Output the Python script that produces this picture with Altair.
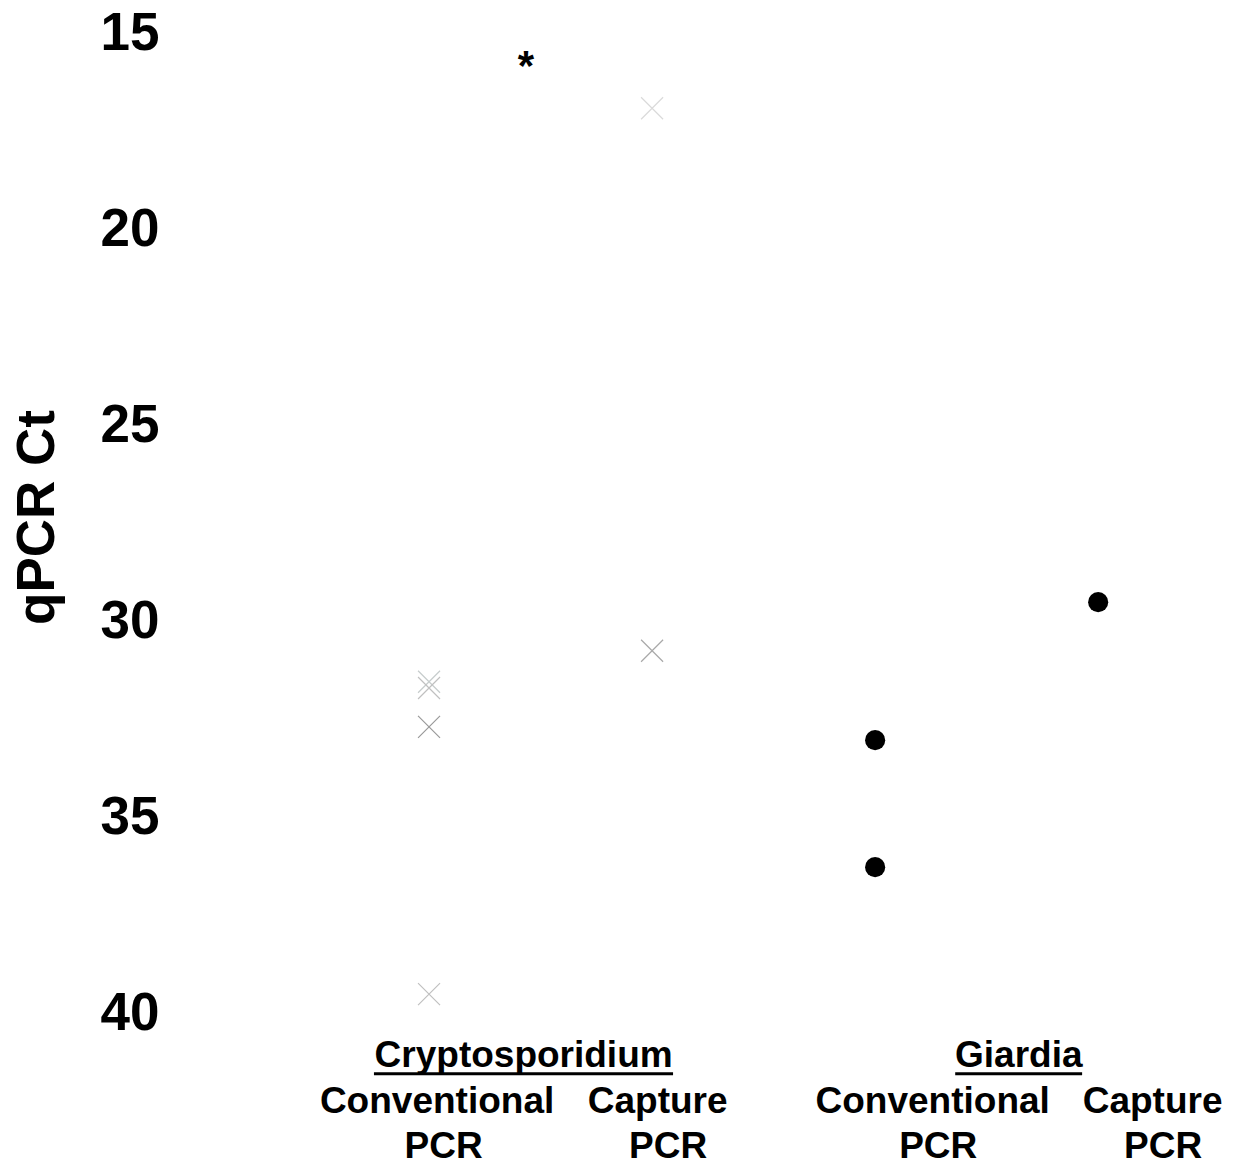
import altair as alt
import pandas as pd

# Cryptosporidium (x marks): group position, Ct value, grey level
crypto_x = [1, 1, 1, 1, 2, 2]
crypto_ct = [31.55, 31.71, 32.70, 39.52, 16.92, 30.76]
crypto_col = ["#c6cccc", "#c0c0c0", "#999999", "#c0c0c0", "#dadada", "#a8a8a8"]

# Giardia (filled dots)
giardia_x = [3, 3, 4]
giardia_ct = [33.04, 36.28, 29.52]

# significance marker
star_x = [1.434]
star_y = [16.2]
star_txt = ["*"]

# category labels below the plot
lab_text = ["Cryptosporidium", "Giardia",
            "Conventional", "Capture", "Conventional", "Capture",
            "PCR", "PCR", "PCR", "PCR"]
lab_x = [1.424, 3.644, 1.036, 2.025, 3.258, 4.244, 1.065, 2.072, 3.283, 4.291]
lab_y = [41.38, 41.38, 42.55, 42.55, 42.55, 42.55, 43.70, 43.70, 43.70, 43.70]

# underlines of the organism names
ul_x = [0.753, 3.359]
ul_x2 = [2.094, 3.928]
ul_y = [41.55, 41.55]

FONT = "Liberation Sans"

xs = alt.Scale(domain=[0, 4.6], nice=False, zero=False)
ys = alt.Scale(domain=[15, 40], reverse=True, nice=False, zero=False)

df_c = pd.DataFrame({"x": crypto_x, "ct": crypto_ct, "col": crypto_col})
df_g = pd.DataFrame({"x": giardia_x, "ct": giardia_ct})
df_s = pd.DataFrame({"x": star_x, "ct": star_y, "t": star_txt})
df_l = pd.DataFrame({"x": lab_x, "ct": lab_y, "t": lab_text})
df_u = pd.DataFrame({"x": ul_x, "x2": ul_x2, "ct": ul_y})

yaxis = alt.Axis(
    title="qPCR Ct", values=[15, 20, 25, 30, 35, 40],
    labelFont=FONT, labelFontSize=53, labelFontWeight="bold", labelColor="black",
    labelPadding=47, ticks=False, domain=False, grid=False,
    titleFont=FONT, titleFontSize=53, titleFontWeight="bold", titleColor="black",
    titleAngle=-90, titleAlign="center", titleBaseline="alphabetic",
    titleX=-153, titleY=484,
)

crosses = alt.Chart(df_c).mark_point(
    shape="M-1,-1L1,1M-1,1L1,-1", size=484, filled=False, strokeWidth=1.2, opacity=1
).encode(
    x=alt.X("x:Q", scale=xs, axis=None),
    y=alt.Y("ct:Q", scale=ys, axis=yaxis),
    stroke=alt.Stroke("col:N", scale=None),
)

dots = alt.Chart(df_g).mark_circle(size=405, color="black", opacity=1).encode(
    x=alt.X("x:Q", scale=xs),
    y=alt.Y("ct:Q", scale=ys),
)

star = alt.Chart(df_s).mark_text(
    font=FONT, fontSize=42, fontWeight="bold", color="black", baseline="alphabetic"
).encode(x=alt.X("x:Q", scale=xs), y=alt.Y("ct:Q", scale=ys), text="t:N")

labels = alt.Chart(df_l).mark_text(
    font=FONT, fontSize=37, fontWeight="bold", color="black",
    baseline="alphabetic", align="center"
).encode(x=alt.X("x:Q", scale=xs), y=alt.Y("ct:Q", scale=ys), text="t:N")

underline = alt.Chart(df_u).mark_rule(color="black", strokeWidth=3).encode(
    x=alt.X("x:Q", scale=xs), x2="x2:Q", y=alt.Y("ct:Q", scale=ys)
)

chart = alt.layer(crosses, dots, star, labels, underline).properties(
    width=1026, height=980,
    autosize=alt.AutoSizeParams(type="none"),
    padding={"left": 198, "top": 25, "right": 0, "bottom": 148},
).configure_view(stroke=None)

chart.save("out.html", embed_options={"renderer": "svg", "actions": False})
